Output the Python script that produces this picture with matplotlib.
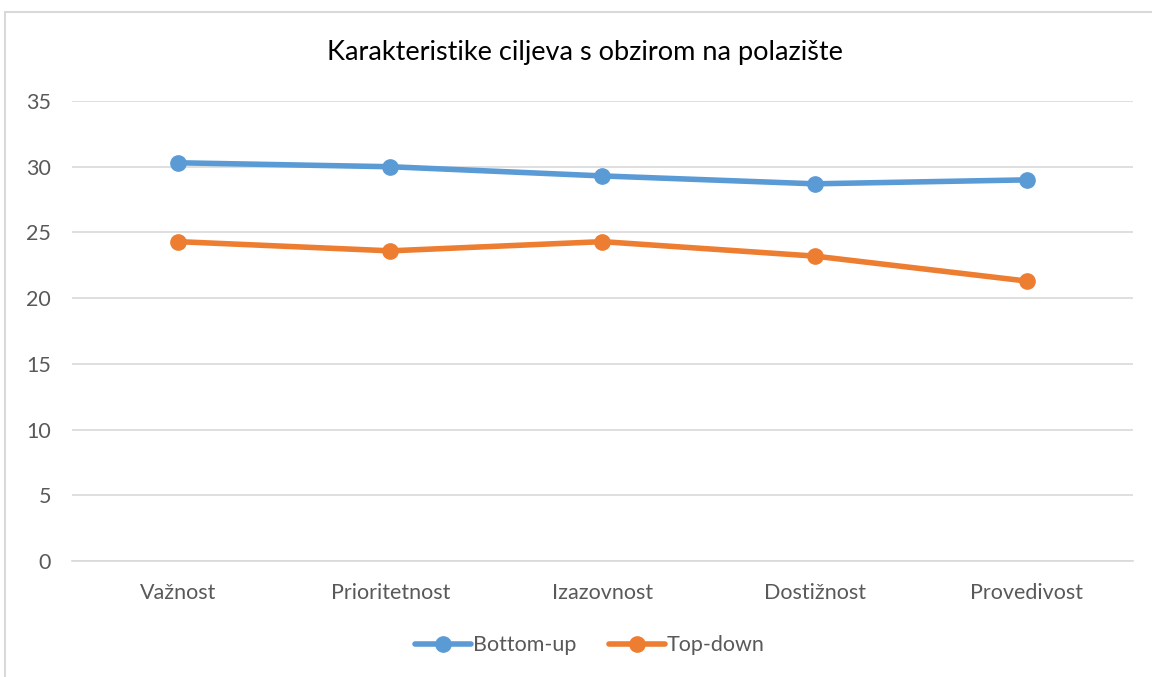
import matplotlib
matplotlib.use('Agg')
import matplotlib.pyplot as plt
from matplotlib.patches import Rectangle

# Data
categories = ['Važnost', 'Prioritetnost', 'Izazovnost', 'Dostižnost', 'Provedivost']
bottom_up = [30.3, 30.0, 29.3, 28.7, 29.0]
top_down = [24.3, 23.6, 24.3, 23.2, 21.3]
yticks = [0, 5, 10, 15, 20, 25, 30, 35]

plt.rcParams['font.family'] = ['Lato', 'DejaVu Sans']

fig = plt.figure(figsize=(11.52, 6.77), dpi=100)
ax = fig.add_axes([0.0625, 0.1713, 0.921, 0.6795])

x = range(len(categories))
ax.plot(x, bottom_up, c='#5b9bd5', lw=4, marker='o', ms=11, label='Bottom-up',
        solid_capstyle='round')
ax.plot(x, top_down, c='#ed7d31', lw=4, marker='o', ms=11, label='Top-down',
        solid_capstyle='round')

ax.set_xlim(-0.5, len(categories) - 0.5)
ax.set_ylim(0, 35)
ax.set_yticks(yticks)
ax.set_xticks(list(x))
ax.set_xticklabels(categories)
ax.yaxis.grid(True, color='#d9d9d9', lw=1.2)
ax.set_axisbelow(True)
for side in ['top', 'right', 'left']:
    ax.spines[side].set_visible(False)
ax.spines['bottom'].set_color('#d9d9d9')
ax.spines['bottom'].set_linewidth(1.2)
ax.tick_params(length=0, labelsize=15.5, colors='#595959', pad=16)
ax.tick_params(axis='y', pad=15)

fig.text(0.508, 0.922, 'Karakteristike ciljeva s obzirom na polazište',
         ha='center', va='center', fontsize=19.5, color='black')

leg = fig.legend(loc='center', bbox_to_anchor=(0.512, 0.047), ncol=2, frameon=False,
                 fontsize=15.5, handlelength=2.6, columnspacing=1.5, handletextpad=0.1)
for t in leg.get_texts():
    t.set_color('#595959')

# chart border
fig.patches.append(Rectangle((5 / 1152, -0.1), 1.2, 1 - 12 / 677 + 0.1,
                             transform=fig.transFigure, fill=False,
                             edgecolor='#d9d9d9', lw=1.5))

fig.savefig('out.png', dpi=100)
